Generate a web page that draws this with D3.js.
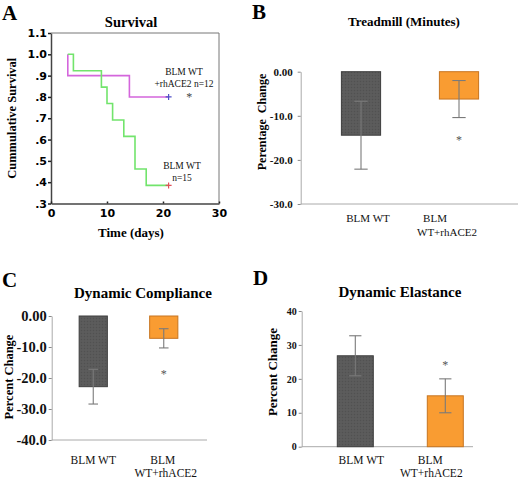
<!DOCTYPE html>
<html><head><meta charset="utf-8">
<script src="https://cdn.jsdelivr.net/npm/d3@7/dist/d3.min.js"></script>
<style>
html,body{margin:0;padding:0;background:#fff;}
svg{display:block;}
</style>
</head><body>
<script>
// ---------- DATA ----------
const survDaysWT = [3, 4, 9, 10, 11, 13, 15, 17, 21];
const survValsWT = [1.0, 0.923, 0.846, 0.769, 0.692, 0.615, 0.462, 0.385, 0.385];
const survDaysACE = [3, 3, 14, 21];
const survValsACE = [1.0, 0.9, 0.8, 0.8];
const survYTicks = [0.3, 0.4, 0.5, 0.6, 0.7, 0.8, 0.9, 1.0, 1.1];
const survXTicks = [0, 10, 20, 30];

const groups = ["BLM WT", "BLM WT+rhACE2"];
const groupLabelLines = [["BLM WT"], ["BLM", "WT+rhACE2"]];

const treadMean = [-14.4, -6.2];
const treadErr = [7.7, 4.2];
const treadTicks = [0, -10, -20, -30];
const treadTickLabels = ["0.00", "-10.0", "-20.0", "-30.0"];

const compMean = [-22.8, -7.2];
const compErr = [5.6, 3.1];
const compTicks = [0, -10, -20, -30, -40];
const compTickLabels = ["0.00", "-10.0", "-20.0", "-30.0", "-40.0"];

const elasMean = [26.8, 15.0];
const elasErr = [5.9, 5.0];
const elasTicks = [0, 10, 20, 30, 40];
const elasTickLabels = ["0", "10", "20", "30", "40"];

// ---------- SETUP ----------
const W = 520, H = 478;
const svg = d3.select("body").append("svg").attr("width", W).attr("height", H);
const SERIF = "'Liberation Serif','Times New Roman',serif";
const SANS = "'DejaVu Sans',Verdana,sans-serif";

const defs = svg.append("defs");
const pat = defs.append("pattern").attr("id", "darkTex").attr("width", 3).attr("height", 3)
  .attr("patternUnits", "userSpaceOnUse");
pat.append("rect").attr("width", 3).attr("height", 3).attr("fill", "#5a5a5a");
pat.append("rect").attr("width", 1).attr("height", 1).attr("fill", "#515151");
pat.append("rect").attr("x", 1.5).attr("y", 1.5).attr("width", 1).attr("height", 1).attr("fill", "#616161");

function panelLetter(ch, x, y) {
  svg.append("text").attr("x", x).attr("y", y).text(ch)
    .attr("font-family", SERIF).attr("font-weight", "bold").attr("font-size", 21).attr("fill", "#000");
}

// ---------- PANEL A: Survival ----------
{
  const x = d3.scaleLinear().domain([0, 30]).range([51, 219]);
  const y = d3.scaleLinear().domain([0.3, 1.1]).range([203.5, 33]);
  const g = svg.append("g");
  g.append("line").attr("x1", x(0)).attr("x2", x(30)).attr("y1", y(1.1)).attr("y2", y(1.1)).attr("stroke", "#777").attr("stroke-width", 1);
  g.append("line").attr("x1", x(30)).attr("x2", x(30)).attr("y1", y(1.1)).attr("y2", y(0.3)).attr("stroke", "#777").attr("stroke-width", 1);

  const yAx = g.append("g").attr("transform", `translate(${x(0)},0)`)
    .call(d3.axisLeft(y).tickValues(survYTicks).tickSize(3).tickSizeOuter(0)
      .tickFormat(d => d >= 1 ? d.toFixed(1) : d.toFixed(1).replace(/^0/, "")));
  yAx.select(".domain").attr("stroke", "#444").attr("stroke-width", 1.5);
  yAx.selectAll(".tick line").attr("stroke", "#222").attr("stroke-width", 1.5);
  yAx.selectAll("text").attr("font-family", SANS).attr("font-weight", "bold").attr("font-size", 11).attr("fill", "#000").attr("x", -4);

  const xAx = g.append("g").attr("transform", `translate(0,${y(0.3)})`)
    .call(d3.axisBottom(x).tickValues(survXTicks).tickSize(-2).tickSizeOuter(0).tickPadding(6));
  xAx.select(".domain").attr("stroke", "#444").attr("stroke-width", 1.5);
  xAx.selectAll(".tick line").attr("stroke", "#222").attr("stroke-width", 1.5);
  xAx.selectAll("text").attr("font-family", SANS).attr("font-weight", "bold").attr("font-size", 11).attr("fill", "#000");

  const line = d3.line().x(d => x(d[0])).y(d => y(d[1])).curve(d3.curveStepAfter);
  const wt = survDaysWT.map((d, i) => [d, survValsWT[i]]);
  const ace = survDaysACE.map((d, i) => [d, survValsACE[i]]);
  g.append("path").attr("d", line(ace)).attr("fill", "none").attr("stroke", "#d466dc").attr("stroke-width", 1.6);
  g.append("path").attr("d", line(wt)).attr("fill", "none").attr("stroke", "#72e46c").attr("stroke-width", 1.6);

  function plus(px, py, col) {
    g.append("path").attr("d", `M${px - 3},${py}H${px + 3}M${px},${py - 3}V${py + 3}`).attr("stroke", col).attr("stroke-width", 1.2);
  }
  const lastW = wt[wt.length - 1], lastA = ace[ace.length - 1];
  plus(x(lastW[0]), y(lastW[1]), "#e0505a");
  plus(x(lastA[0]), y(lastA[1]), "#5050c8");

  g.append("text").attr("x", x(24.7)).attr("y", y(0.8) + 4).attr("text-anchor", "middle").text("*")
    .attr("font-family", SERIF).attr("font-size", 12).attr("fill", "#444");

  const lab1 = g.append("text").attr("font-family", SERIF).attr("font-size", 9.5).attr("fill", "#111").attr("text-anchor", "middle");
  lab1.append("tspan").attr("x", 184).attr("y", 75).text("BLM WT");
  lab1.append("tspan").attr("x", 184).attr("y", 87).text("+rhACE2 n=12");
  const lab2 = g.append("text").attr("font-family", SERIF).attr("font-size", 9.5).attr("fill", "#111").attr("text-anchor", "middle");
  lab2.append("tspan").attr("x", 182).attr("y", 169).text("BLM WT");
  lab2.append("tspan").attr("x", 182).attr("y", 181).text("n=15");

  g.append("text").attr("x", 131).attr("y", 27).attr("text-anchor", "middle").text("Survival")
    .attr("font-family", SERIF).attr("font-weight", "bold").attr("font-size", 14.5);
  g.append("text").attr("x", 131).attr("y", 237).attr("text-anchor", "middle").text("Time (days)")
    .attr("font-family", SERIF).attr("font-weight", "bold").attr("font-size", 13);
  g.append("text").attr("transform", `translate(16,${(y(0.3) + y(1.1)) / 2}) rotate(-90)`).attr("text-anchor", "middle")
    .text("Cummulative Survival").attr("font-family", SERIF).attr("font-weight", "bold").attr("font-size", 12.5);
  panelLetter("A", 2, 20);
}

// ---------- BAR PANELS ----------
function barPanel(o) {
  const g = svg.append("g");
  const x = d3.scaleBand().domain(groups).range(o.xRange).paddingInner(0.6).paddingOuter(0.3);
  const y = d3.scaleLinear().domain(o.yDomain).range(o.yRange);
  const base = y(0);
  const yAx = g.append("g").attr("transform", `translate(${o.axisX},0)`)
    .call(d3.axisLeft(y).tickValues(o.ticks).tickSize(3).tickSizeOuter(0).tickPadding(o.tickPad)
      .tickFormat((d, i) => o.tickLabels[i]));
  yAx.select(".domain").attr("stroke", "#aaa").attr("stroke-width", 1);
  yAx.selectAll(".tick line").attr("stroke", "#888");
  yAx.selectAll("text").attr("font-family", SERIF).attr("font-weight", "bold").attr("font-size", o.tickFont).attr("fill", "#111");
  const yb = y(o.yDomain[o.baseIdx]);
  g.append("line").attr("x1", o.axisX).attr("x2", o.xAxisEnd).attr("y1", yb).attr("y2", yb).attr("stroke", "#aaa").attr("stroke-width", 1);

  const cols = ["url(#darkTex)", "#f99c32"];
  const strokes = ["#3e3e3e", "#c77520"];
  groups.forEach((grp, i) => {
    const m = o.mean[i], e = o.err[i];
    const x0 = x(grp), bw = x.bandwidth(), cx = x0 + bw / 2;
    g.append("rect").attr("x", x0).attr("width", bw)
      .attr("y", Math.min(y(m), base)).attr("height", Math.abs(y(m) - base))
      .attr("fill", cols[i]).attr("stroke", strokes[i]).attr("stroke-width", 1);
    const cw = bw * 0.17;
    const eg = g.append("g").attr("stroke", "#7a7a7a").attr("stroke-width", 1.1);
    eg.append("line").attr("x1", cx).attr("x2", cx).attr("y1", y(m - e)).attr("y2", y(m + e));
    eg.append("line").attr("x1", cx - cw).attr("x2", cx + cw).attr("y1", y(m - e)).attr("y2", y(m - e));
    eg.append("line").attr("x1", cx - cw).attr("x2", cx + cw).attr("y1", y(m + e)).attr("y2", y(m + e));
    const t = g.append("text").attr("font-family", SERIF).attr("font-size", o.labFont).attr("fill", "#111").attr("text-anchor", "middle");
    groupLabelLines[i].forEach((ln, k) => {
      const dx = o.labDx[i][k];
      t.append("tspan").attr("x", cx + dx).attr("y", o.labY + k * o.labLH).text(ln);
    });
  });
  const cx2 = x(groups[1]) + x.bandwidth() / 2;
  g.append("text").attr("x", cx2).attr("y", y(o.starVal) + 5).attr("text-anchor", "middle").text("*")
    .attr("font-family", SERIF).attr("font-size", 12).attr("fill", "#555");

  g.append("text").attr("x", o.titleX).attr("y", o.titleY).attr("text-anchor", "middle").text(o.title)
    .attr("font-family", SERIF).attr("font-weight", "bold").attr("font-size", o.titleFont);
  g.append("text").attr("transform", `translate(${o.ylabX},${o.ylabY}) rotate(-90)`).attr("text-anchor", "middle")
    .text(o.ylab).attr("font-family", SERIF).attr("font-weight", "bold").attr("font-size", o.ylabFont).style("white-space", "pre");
}

// Panel B
barPanel({
  xRange: [312, 508], yDomain: [-30, 0], yRange: [204, 71.7], axisX: 300.7, xAxisEnd: 518, baseIdx: 0,
  ticks: treadTicks, tickLabels: treadTickLabels, tickFont: 11, tickPad: 5,
  mean: treadMean, err: treadErr, starVal: -15.2,
  labFont: 11, labY: 222, labLH: 13.5, labDx: [[7], [-24, -12]],
  title: "Treadmill (Minutes)", titleX: 404, titleY: 26, titleFont: 13,
  ylab: "Perentage  Change", ylabX: 266, ylabY: 122, ylabFont: 12
});
panelLetter("B", 252, 19);

// Panel C
barPanel({
  xRange: [58, 199], yDomain: [-40, 0], yRange: [440, 316], axisX: 51.7, xAxisEnd: 207, baseIdx: 0,
  ticks: compTicks, tickLabels: compTickLabels, tickFont: 14.5, tickPad: 2,
  mean: compMean, err: compErr, starVal: -18.5,
  labFont: 11.5, labY: 464, labLH: 13, labDx: [[0], [-1, 2]],
  title: "Dynamic Compliance", titleX: 143, titleY: 298, titleFont: 15,
  ylab: "Percent Change", ylabX: 12.5, ylabY: 377, ylabFont: 12.5
});
panelLetter("C", 2, 287);

// Panel D
barPanel({
  xRange: [310.3, 490.3], yDomain: [0, 40], yRange: [446.7, 311], axisX: 301.7, xAxisEnd: 473, baseIdx: 0,
  ticks: elasTicks, tickLabels: elasTickLabels, tickFont: 10, tickPad: 2,
  mean: elasMean, err: elasErr, starVal: 24.5,
  labFont: 11.5, labY: 464, labLH: 13, labDx: [[6], [-15, -14]],
  title: "Dynamic Elastance", titleX: 400, titleY: 297, titleFont: 15,
  ylab: "Percent Change", ylabX: 277, ylabY: 372, ylabFont: 13
});
panelLetter("D", 253, 285);
</script>
</body></html>
